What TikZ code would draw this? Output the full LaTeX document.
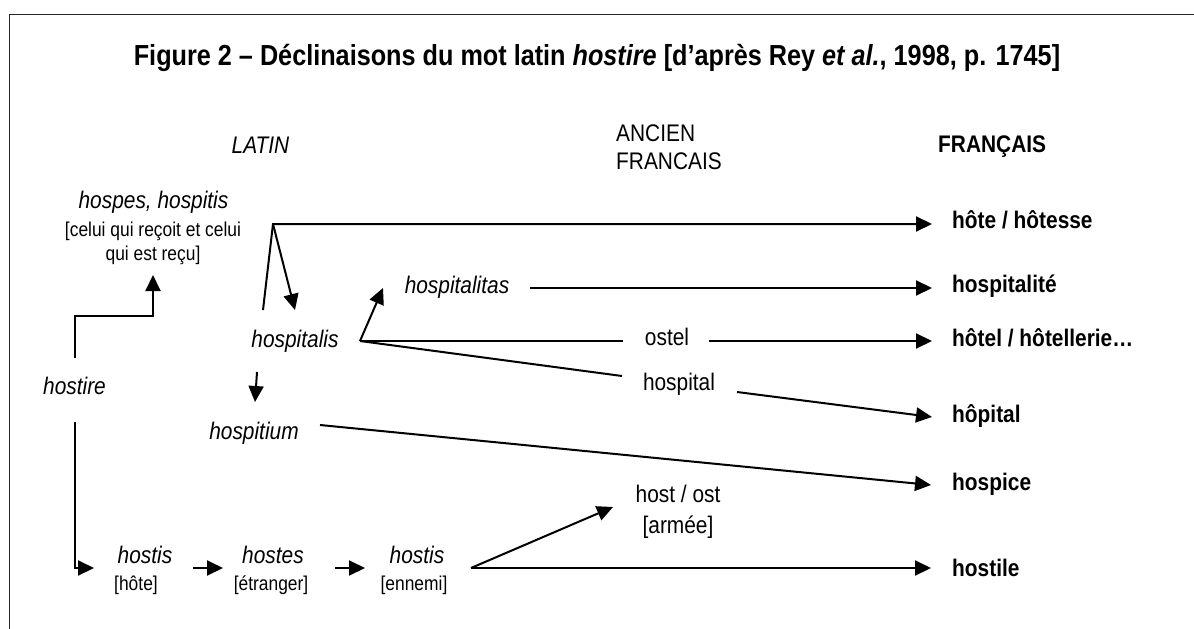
\documentclass[tikz,border=0pt]{standalone}
\usepackage{fontspec}
\setmainfont{Liberation Sans}[FakeStretch=0.87]
\usetikzlibrary{arrows.meta}
\begin{document}
\begin{tikzpicture}[x=1pt,y=-1pt,
  lbl/.style={inner sep=0pt, anchor=base, font=\fontsize{24}{28}\selectfont},
  lat/.style={lbl, font=\fontsize{24}{28}\selectfont\itshape},
  gloss/.style={lbl, font=\fontsize{20}{24}\selectfont},
  fr/.style={lbl, anchor=base west, font=\fontsize{24}{28}\selectfont\bfseries},
  conn/.style={line width=2pt},
  arr/.style={conn, -{Triangle[length=16pt,width=15pt]}}]
\useasboundingbox (0,0) rectangle (1194,629);
% frame
\draw[line width=1pt, black!85] (9,629) -- (9,14) -- (1194,14);
% title and headings
\node[lbl, font=\fontsize{29}{34}\selectfont\bfseries] (title) at (597,65)
  {Figure 2 – Déclinaisons du mot latin \textit{hostire} [d’après Rey \textit{et al.}, 1998, p. 1745]};
\node[lat] (latin) at (260.5,153) {LATIN};
\node[lbl, anchor=base west] (ancien) at (616,141) {ANCIEN};
\node[lbl, anchor=base west] (ancfr) at (616,169) {FRANCAIS};
\node[fr] (francais) at (938,152) {FRANÇAIS};
% latin words
\node[lat] (hospes) at (153.5,208) {hospes, hospitis};
\node[gloss] (gl1) at (153,236) {[celui qui reçoit et celui};
\node[gloss] (gl2) at (153,260) {qui est reçu]};
\node[lat] (hostire) at (74.5,394) {hostire};
\node[lat] (hospitalis) at (295,347) {hospitalis};
\node[lat] (hospitium) at (254,439) {hospitium};
\node[lat] (hospitalitas) at (457,293) {hospitalitas};
\node[lat] (hostisA) at (145,563) {hostis};
\node[gloss] (hoteg) at (136,590) {[hôte]};
\node[lat] (hostes) at (273,563) {hostes};
\node[gloss] (etrg) at (271,590) {[étranger]};
\node[lat] (hostisB) at (417,563) {hostis};
\node[gloss] (ennemig) at (414,590) {[ennemi]};
% old french
\node[lbl] (ostel) at (667,345) {ostel};
\node[lbl] (hospital) at (679,390) {hospital};
\node[lbl] (hostost) at (678,502) {host / ost};
\node[lbl] (armee) at (678,533) {[armée]};
% french
\node[fr] (hote) at (952,228) {hôte / hôtesse};
\node[fr] (hospitalite) at (952,292) {hospitalité};
\node[fr] (hotel) at (952,346) {hôtel / hôtellerie…};
\node[fr] (hopital) at (952,422) {hôpital};
\node[fr] (hospice) at (952,490) {hospice};
\node[fr] (hostile) at (952,576) {hostile};
% coordinates
\coordinate (h1) at (75,358);
\coordinate (k1) at (153,316);
\coordinate (hptip) at (153,275);
\coordinate (h2) at (75,422);
\coordinate (hAtip) at (94,568);
\coordinate (hl1) at (263,310);
\coordinate (j) at (273,224);
\coordinate (hotetip) at (932,224);
\coordinate (hlstip) at (295,310);
\coordinate (p1) at (257,372);
\coordinate (p2) at (255,402);
\coordinate (hm) at (320,425);
\coordinate (hospicetip) at (931,485);
\coordinate (k) at (360,341);
\coordinate (hlttip) at (383,288);
\coordinate (o1) at (623,341);
\coordinate (o2) at (709,341);
\coordinate (hoteltip) at (932,341);
\coordinate (s1) at (622,376);
\coordinate (s2) at (737,392);
\coordinate (hopitaltip) at (932,417);
\coordinate (t1) at (530,288);
\coordinate (hospitalitetip) at (932,288);
\coordinate (b1) at (193,568);
\coordinate (b1t) at (223,568);
\coordinate (b2) at (335,568);
\coordinate (b2t) at (365,568);
\coordinate (m) at (471,568);
\coordinate (ostip) at (613,507);
\coordinate (hostiletip) at (931,568);
% connectors
\draw[arr] (h1) |- (k1) -- (hptip);
\draw[arr] (h2) |- (hAtip);
\draw[arr] (hl1) -- (j) -- (hotetip);
\draw[arr] (j) -- (hlstip);
\draw[arr] (p1) -- (p2);
\draw[arr] (hm) -- (hospicetip);
\draw[arr] (k) -- (hlttip);
\draw[conn] (k) -- (o1);
\draw[arr] (o2) -- (hoteltip);
\draw[conn] (k) -- (s1);
\draw[arr] (s2) -- (hopitaltip);
\draw[arr] (t1) -- (hospitalitetip);
\draw[arr] (b1) -- (b1t);
\draw[arr] (b2) -- (b2t);
\draw[arr] (m) -- (ostip);
\draw[arr] (m) -- (hostiletip);
\end{tikzpicture}
\end{document}
